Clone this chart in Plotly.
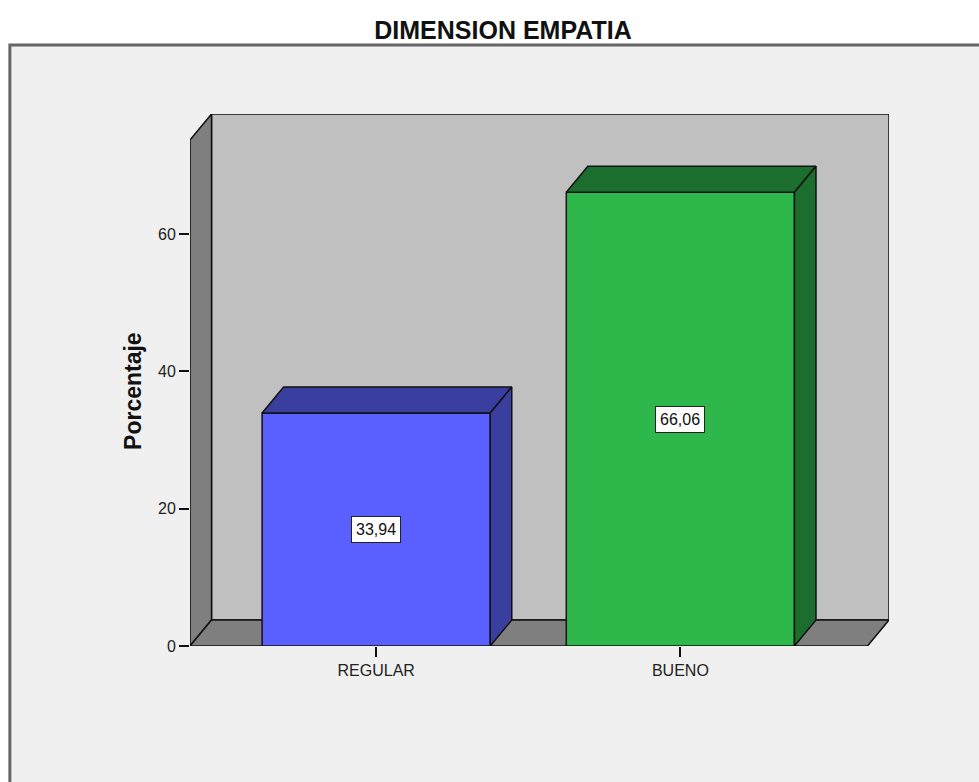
import plotly.graph_objects as go

# Chart data
categories = ["REGULAR", "BUENO"]
percentages = [33.94, 66.06]
value_labels = ["33,94", "66,06"]
y_ticks = [0, 20, 40, 60]

front_colors = ["#5a5fff", "#2eb84c"]
shade_colors = ["#3a3e9e", "#1c6e2e"]

# Figure geometry (pixels)
FIG_W, FIG_H = 979, 782
M_L, M_T, M_B = 190, 114, 136
PX_PER_CAT = 304.0

# 3D box in data units
X0, X1 = -0.612, 1.615          # front edge of the floor
DX = 21.5 / PX_PER_CAT          # depth offset along x
Y_TOP = 77.47                   # top of the back wall
PX_PER_Y = (FIG_H - M_T - M_B) / Y_TOP
DY = 26.0 / PX_PER_Y            # depth offset along y
BAR_W = 0.75

x_range = [X0, X1 + DX]
plot_w = (x_range[1] - x_range[0]) * PX_PER_CAT
M_R = FIG_W - M_L - plot_w
plot_h = FIG_H - M_T - M_B

fig = go.Figure()

# Front faces of the bars
fig.add_trace(go.Bar(
    x=list(range(len(categories))), y=percentages, width=BAR_W,
    marker=dict(color=front_colors, line=dict(color="#111111", width=1.5)),
    hoverinfo="skip", showlegend=False,
))

# Top and side faces of each bar
for i, v in enumerate(percentages):
    l, r = i - BAR_W / 2, i + BAR_W / 2
    fig.add_trace(go.Scatter(
        x=[l, l + DX, r + DX, r, l], y=[v, v + DY, v + DY, v, v],
        mode="lines", fill="toself", fillcolor=shade_colors[i],
        line=dict(color="#111111", width=1.5), hoverinfo="skip", showlegend=False,
    ))
    fig.add_trace(go.Scatter(
        x=[r, r + DX, r + DX, r, r], y=[0, DY, v + DY, v, 0],
        mode="lines", fill="toself", fillcolor=shade_colors[i],
        line=dict(color="#111111", width=1.5), hoverinfo="skip", showlegend=False,
    ))

shapes = []
# Outer panel with frame
fx0 = (10 - M_L) / plot_w
fy1 = (FIG_H - M_B - 45) / plot_h
shapes.append(dict(type="rect", xref="paper", yref="paper", layer="below",
                   x0=fx0, x1=1 + (M_R + 40) / plot_w, y0=-(M_B + 40) / plot_h, y1=fy1,
                   fillcolor="#f0f0f0", line=dict(color="#666666", width=3)))
# Back wall
shapes.append(dict(type="rect", xref="x", yref="y", layer="below",
                   x0=X0 + DX, x1=X1 + DX, y0=DY, y1=Y_TOP,
                   fillcolor="#c0c0c0", line=dict(color="#111111", width=1.5)))
# Left wall
shapes.append(dict(type="path", xref="x", yref="y", layer="below",
                   path=f"M {X0},0 L {X0 + DX},{DY} L {X0 + DX},{Y_TOP} L {X0},{Y_TOP - DY} Z",
                   fillcolor="#7f7f7f", line=dict(color="#111111", width=1.5)))
# Floor
shapes.append(dict(type="path", xref="x", yref="y", layer="below",
                   path=f"M {X0},0 L {X1},0 L {X1 + DX},{DY} L {X0 + DX},{DY} Z",
                   fillcolor="#7f7f7f", line=dict(color="#111111", width=1.5)))

FONT = "Arial, Liberation Sans, sans-serif"

annotations = []
for i, (v, t) in enumerate(zip(percentages, value_labels)):
    annotations.append(dict(x=i, y=v / 2, xref="x", yref="y", text=t, showarrow=False,
                            font=dict(family=FONT, size=16, color="#111111"),
                            bgcolor="#ffffff", bordercolor="#222222", borderwidth=1,
                            borderpad=4))

# Y axis title
annotations.append(dict(x=(133 - M_L) / plot_w, y=(FIG_H - M_B - 391) / plot_h,
                        xref="paper", yref="paper", text="<b>Porcentaje</b>",
                        textangle=-90, showarrow=False, xanchor="center", yanchor="middle",
                        font=dict(family=FONT, size=23, color="#111111")))

fig.update_layout(
    width=FIG_W, height=FIG_H,
    margin=dict(l=M_L, r=M_R, t=M_T, b=M_B, pad=0),
    paper_bgcolor="#ffffff", plot_bgcolor="rgba(0,0,0,0)",
    title=dict(text="<b>DIMENSION EMPATIA</b>", x=503 / FIG_W, xref="container",
               xanchor="center", y=1 - 30 / FIG_H, yref="container", yanchor="middle",
               font=dict(family=FONT, size=25, color="#111111")),
    xaxis=dict(range=x_range, tickvals=list(range(len(categories))), ticktext=categories,
               ticks="outside", ticklen=10, tickwidth=1.5, tickcolor="#111111",
               showline=False, showgrid=False, zeroline=False, fixedrange=True,
               tickfont=dict(family=FONT, size=16, color="#222222")),
    yaxis=dict(range=[0, Y_TOP], tickvals=y_ticks, ticks="outside", ticklen=10,
               tickwidth=1.5, tickcolor="#111111",
               showline=False, showgrid=False, zeroline=False, fixedrange=True,
               tickfont=dict(family=FONT, size=16, color="#222222")),
    shapes=shapes, annotations=annotations, showlegend=False,
)

fig.write_html("out.html", config={"displayModeBar": False})
